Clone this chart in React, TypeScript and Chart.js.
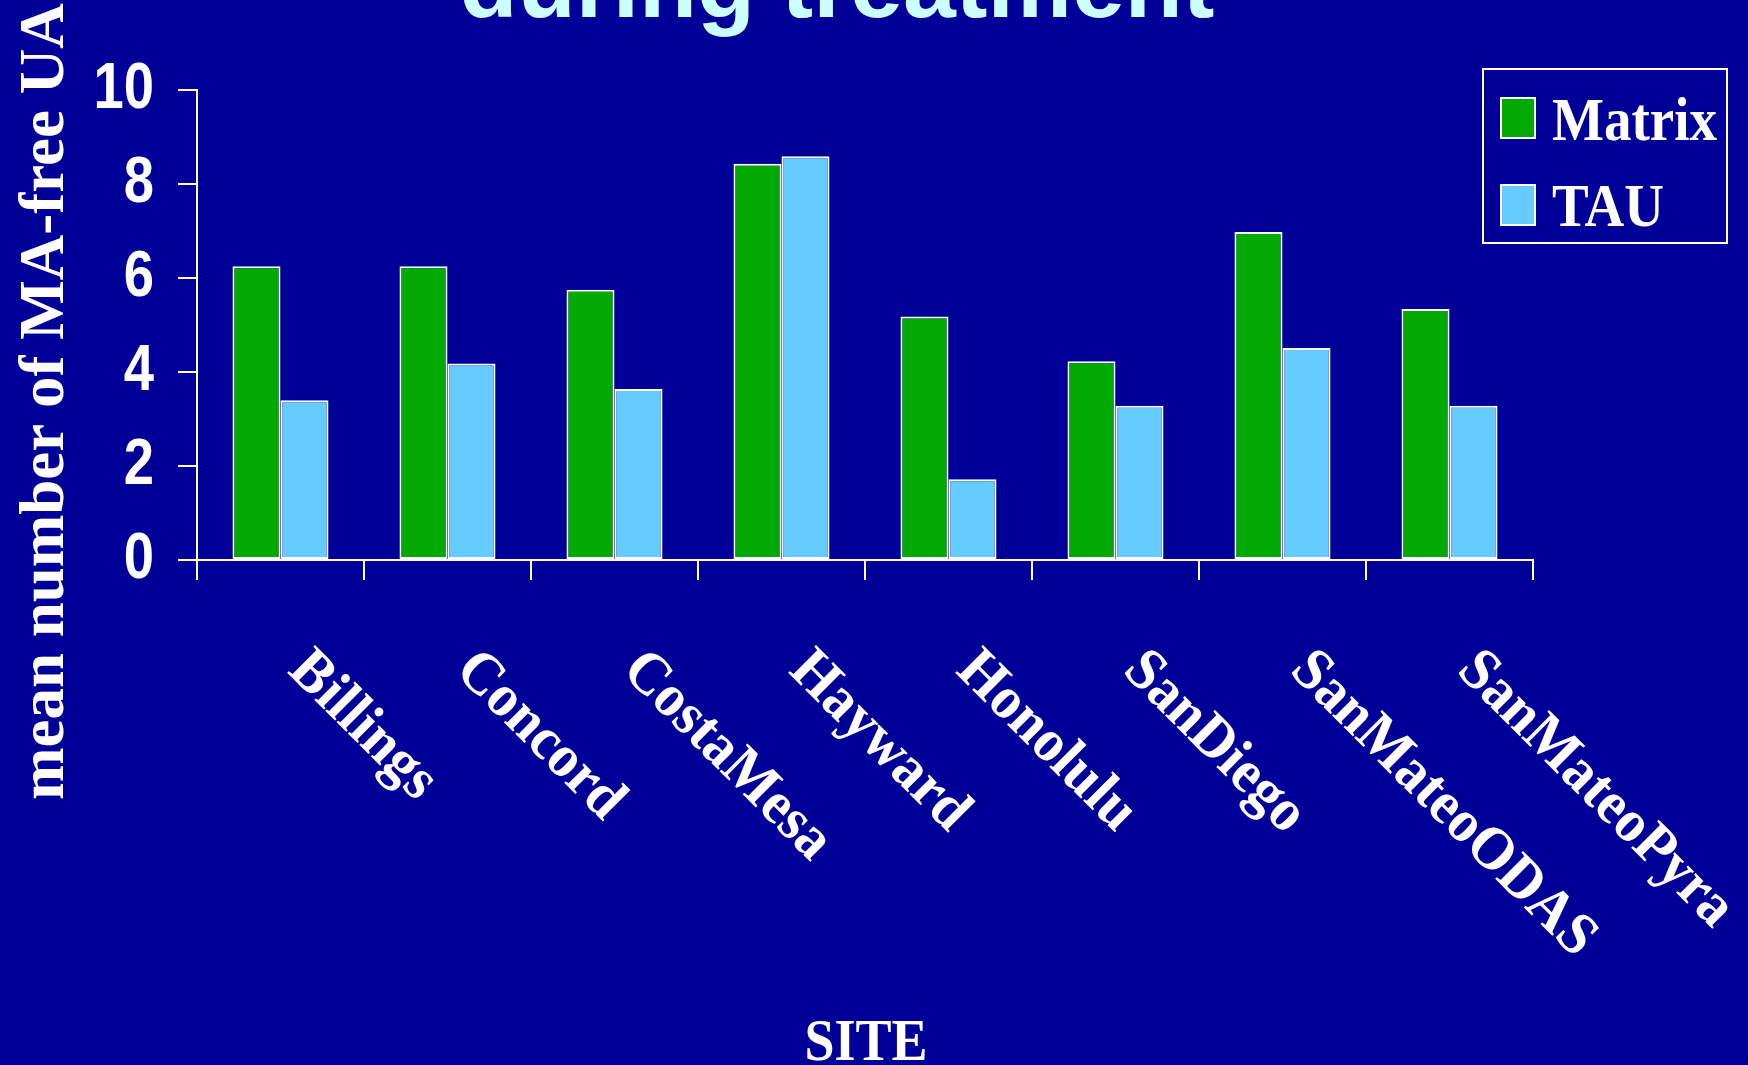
import React, { useEffect, useRef } from "react";
import { Chart, registerables } from "chart.js";

Chart.register(...registerables);

const sites = ["Billings", "Concord", "CostaMesa", "Hayward", "Honolulu", "SanDiego", "SanMateoODAS", "SanMateoPyra"];
const matrixValues = [6.25, 6.25, 5.75, 8.43, 5.18, 4.23, 6.98, 5.34];
const tauValues = [3.4, 4.18, 3.64, 8.59, 1.72, 3.28, 4.51, 3.28];
const yTicks = [0, 2, 4, 6, 8, 10];
const seriesNames = ["Matrix", "TAU"];
const titleText = "during treatment";
const yAxisTitle = "mean number of MA-free UA";
const xAxisTitle = "SITE";

const BG = "#000099";
const GREEN = "#00AA00";
const LIGHTBLUE = "#66CCFF";
const WHITE = "#FFFFFF";
const SERIF = "'Liberation Serif', 'Times New Roman', serif";
const SANS = "'Liberation Sans', Arial, sans-serif";

const decorPlugin = {
  id: "decor",
  beforeDraw(chart: any) {
    const ctx = chart.ctx;
    ctx.save();
    ctx.fillStyle = BG;
    ctx.fillRect(0, 0, chart.width, chart.height);
    ctx.restore();
  },
  afterDraw(chart: any) {
    const ctx = chart.ctx;
    const xs = chart.scales.x;
    const ys = chart.scales.y;

    // title (second line, partly off the top)
    ctx.save();
    ctx.fillStyle = "#CCFFFF";
    ctx.font = `bold 95px ${SANS}`;
    ctx.textAlign = "center";
    ctx.textBaseline = "alphabetic";
    ctx.fillText(titleText, 837, 17);
    ctx.restore();

    // y tick labels (condensed bold sans)
    ys.ticks.forEach((t: any) => {
      const py = ys.getPixelForValue(t.value);
      ctx.save();
      ctx.fillStyle = WHITE;
      ctx.font = `bold 64px ${SANS}`;
      ctx.textAlign = "right";
      ctx.textBaseline = "middle";
      ctx.translate(154, py);
      ctx.scale(0.85, 1);
      ctx.fillText(String(t.value), 0, 0);
      ctx.restore();
    });

    // y axis title
    ctx.save();
    ctx.fillStyle = WHITE;
    ctx.font = `bold 63px ${SERIF}`;
    ctx.textAlign = "left";
    ctx.textBaseline = "alphabetic";
    ctx.translate(63, 800);
    ctx.rotate(-Math.PI / 2);
    ctx.fillText(yAxisTitle, 0, 0);
    ctx.restore();

    // x tick labels, rotated 45° clockwise
    const labels = chart.data.labels as string[];
    labels.forEach((lab, i) => {
      const px = xs.getPixelForTick(i);
      ctx.save();
      ctx.fillStyle = WHITE;
      ctx.font = `bold 60px ${SERIF}`;
      ctx.textAlign = "left";
      ctx.textBaseline = "alphabetic";
      ctx.translate(px + 6, 672);
      ctx.rotate(Math.PI / 4);
      ctx.scale(0.95, 1);
      ctx.fillText(lab, 0, 0);
      ctx.restore();
    });

    // x axis title
    ctx.save();
    ctx.fillStyle = WHITE;
    ctx.font = `bold 60px ${SERIF}`;
    ctx.textAlign = "center";
    ctx.textBaseline = "alphabetic";
    ctx.translate(866, 1060);
    ctx.scale(0.9, 1);
    ctx.fillText(xAxisTitle, 0, 0);
    ctx.restore();

    // legend
    ctx.save();
    ctx.strokeStyle = WHITE;
    ctx.lineWidth = 2;
    ctx.strokeRect(1483, 69, 244, 174);
    const ds = chart.data.datasets;
    const rows = [
      { y: 98, base: 140, maxW: 165 },
      { y: 185, base: 226, maxW: 112 },
    ];
    ds.forEach((d: any, i: number) => {
      const r = rows[i];
      ctx.fillStyle = d.backgroundColor;
      ctx.fillRect(1501, r.y, 34, 40);
      ctx.strokeStyle = WHITE;
      ctx.lineWidth = 2;
      ctx.strokeRect(1501, r.y, 34, 40);
      ctx.fillStyle = WHITE;
      ctx.font = `bold 62px ${SERIF}`;
      ctx.textAlign = "left";
      ctx.textBaseline = "alphabetic";
      ctx.fillText(d.label, 1552, r.base, r.maxW);
    });
    ctx.restore();
  },
};

export default function App() {
  const ref = useRef<HTMLCanvasElement | null>(null);

  useEffect(() => {
    if (!ref.current) return;
    const chart = new Chart(ref.current, {
      type: "bar",
      data: {
        labels: sites,
        datasets: [
          {
            label: seriesNames[0],
            data: matrixValues,
            backgroundColor: GREEN,
            borderColor: WHITE,
            borderWidth: 2,
            borderSkipped: false,
            categoryPercentage: 0.575,
            barPercentage: 1,
          },
          {
            label: seriesNames[1],
            data: tauValues,
            backgroundColor: LIGHTBLUE,
            borderColor: WHITE,
            borderWidth: 2,
            borderSkipped: false,
            categoryPercentage: 0.575,
            barPercentage: 1,
          },
        ],
      },
      options: {
        animation: false,
        responsive: false,
        maintainAspectRatio: false,
        devicePixelRatio: 1,
        layout: { padding: { left: 0, top: 90, right: 215, bottom: 0 } },
        plugins: {
          legend: { display: false },
          title: { display: false },
          tooltip: { enabled: false },
        },
        scales: {
          x: {
            afterFit: (s: any) => {
              s.height = 505;
            },
            border: { display: true, color: WHITE, width: 2 },
            grid: {
              display: true,
              drawOnChartArea: false,
              drawTicks: true,
              tickLength: 20,
              color: WHITE,
              lineWidth: 2,
              offset: true,
            },
            ticks: { display: false },
          },
          y: {
            min: 0,
            max: 10,
            afterFit: (s: any) => {
              s.width = 197;
            },
            afterBuildTicks: (s: any) => {
              s.ticks = yTicks.map((v) => ({ value: v }));
            },
            border: { display: true, color: WHITE, width: 2 },
            grid: {
              display: true,
              drawOnChartArea: false,
              drawTicks: true,
              tickLength: 19,
              color: WHITE,
              lineWidth: 2,
            },
            ticks: { display: false },
          },
        },
      },
      plugins: [decorPlugin],
    });
    return () => chart.destroy();
  }, []);

  return (
    <div style={{ position: "fixed", left: 0, top: 0, width: 1748, height: 1065, background: BG, overflow: "hidden" }}>
      <canvas ref={ref} width={1748} height={1065} style={{ width: 1748, height: 1065, display: "block" }} />
    </div>
  );
}
